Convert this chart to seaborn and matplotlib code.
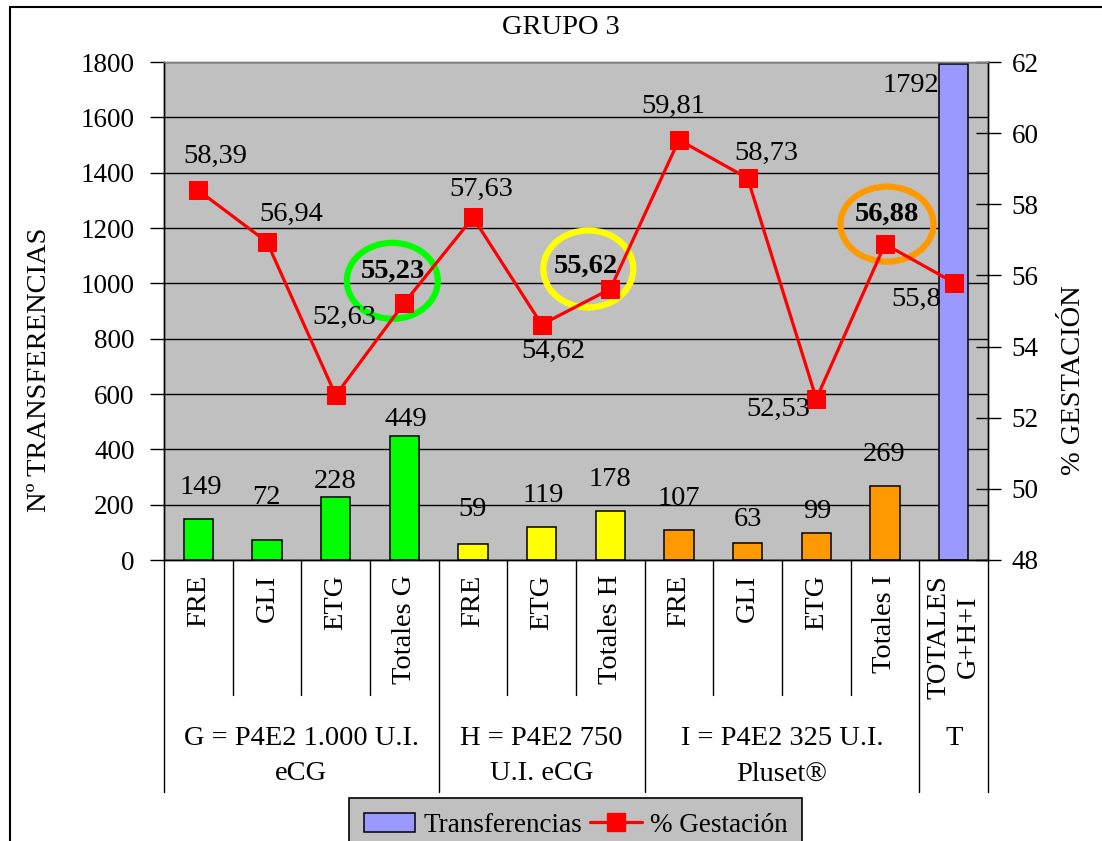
import numpy as np
import pandas as pd
import matplotlib
matplotlib.use("Agg")
import matplotlib.pyplot as plt
import seaborn as sns
from matplotlib.patches import Ellipse, Patch
from matplotlib.lines import Line2D
from matplotlib.transforms import IdentityTransform

# ---- data ----
subcategories = ["FRE", "GLI", "ETG", "Totales G",
                 "FRE", "ETG", "Totales H",
                 "FRE", "GLI", "ETG", "Totales I",
                 "TOTALES\nG+H+I"]
groups = ["G = P4E2 1.000 U.I.\neCG", "H = P4E2 750\nU.I. eCG",
          "I = P4E2 325 U.I.\nPluset®", "T"]
group_sizes = [4, 3, 4, 1]
transferencias = [149, 72, 228, 449, 59, 119, 178, 107, 63, 99, 269, 1792]
gestacion = [58.39, 56.94, 52.63, 55.23, 57.63, 54.62, 55.62,
             59.81, 58.73, 52.53, 56.88, 55.8]
group_colors = ["#00FF00", "#FFFF00", "#FF9900", "#9999FF"]
highlight = {3: "#00FF00", 6: "#FFFF00", 10: "#FF9900"}

# label offsets in pixels (dx right, dy down)
line_label_off = [(17, -34), (24, -28), (9, -78), (-11, -32), (8, -28), (12, 27),
                  (-24, -23), (-6, -33), (19, -25), (-38, 11), (2, -30), (-37, 17)]
bar_label_off = [(2, -31), (-1, -43), (0, -15), (1, -16), (0, -34), (2, -32),
                 (0, -31), (0, -32), (0, -23), (1, -21), (-1, -31), (-43, 21)]
ellipse_style = {3: (-12, -22, 91, 76), 6: (-22, -20, 90, 77), 10: (2, -20, 93, 75)}

n = len(transferencias)
bar_colors = [c for c, s in zip(group_colors, group_sizes) for _ in range(s)]
df = pd.DataFrame({"key": [str(i) for i in range(n)],
                   "transferencias": transferencias})

# ---- style ----
sns.set_theme(style="white")
plt.rcParams["font.family"] = ["Liberation Serif", "DejaVu Serif"]
plt.rcParams.update({"text.color": "black", "axes.labelcolor": "black",
                     "xtick.color": "black", "ytick.color": "black"})
FS = 20.5
TICK_FS = 19.5
W, H = 1102, 841

fig = plt.figure(figsize=(W / 100, H / 100), dpi=100)
fig.patch.set_facecolor("white")
ax = fig.add_axes([164 / W, 1 - 560 / H, 824 / W, 498 / H])
ax.set_facecolor("#C0C0C0")

sns.barplot(data=df, x="key", y="transferencias", hue="key",
            palette=bar_colors, width=0.43, saturation=1,
            edgecolor="black", linewidth=1.1, legend=False, ax=ax, zorder=2)

ax2 = ax.twinx()
sns.lineplot(x=np.arange(n), y=gestacion, ax=ax2, color="red", linewidth=2.3,
             marker="s", markersize=13, markeredgecolor="red", zorder=3)

ax.set_xlim(-0.5, n - 0.5)
ax.set_ylim(0, 1800)
ax.set_yticks(range(0, 1801, 200))
ax2.set_ylim(48, 62)
ax2.set_yticks(range(48, 63, 2))
ax.set_xlabel("")
ax.set_ylabel("")
ax2.set_ylabel("")
ax.yaxis.grid(True, color="black", linewidth=1)
ax.set_axisbelow(True)

ax.tick_params(axis="x", bottom=False, labelbottom=False)
ax.tick_params(axis="y", left=True, direction="out", length=10, width=1,
               color="black", labelcolor="black", labelsize=TICK_FS, pad=11)
ax2.tick_params(axis="y", right=True, direction="inout", length=18, width=1,
                color="black", labelcolor="black", labelsize=TICK_FS, pad=8)
for a in (ax, ax2):
    for s in ("left", "bottom", "right"):
        a.spines[s].set_color("black")
        a.spines[s].set_linewidth(1)
    a.spines["top"].set_color("#808080")
    a.spines["top"].set_linewidth(1)

# ---- value labels ----
for i, v in enumerate(transferencias):
    dx, dy = bar_label_off[i]
    ax.annotate(str(v), (i, v), xytext=(dx, -dy), textcoords="offset pixels",
                ha="center", va="center", fontsize=FS, color="black",
                annotation_clip=False, zorder=4)

for i, v in enumerate(gestacion):
    dx, dy = line_label_off[i]
    txt = f"{v:g}".replace(".", ",")
    ax2.annotate(txt, (i, v), xytext=(dx, -dy), textcoords="offset pixels",
                 ha="center", va="center", fontsize=FS, color="black",
                 fontweight="bold" if i in highlight else "normal",
                 annotation_clip=False, zorder=4)

# highlight rings around the group totals
for i, col in highlight.items():
    dx, dy, ew, eh = ellipse_style[i]
    cx, cy = ax2.transData.transform((i, gestacion[i]))
    ring = Ellipse((cx + dx, cy - dy), ew, eh, transform=IdentityTransform(),
                   fill=False, edgecolor=col, linewidth=4.5, zorder=2.5,
                   clip_on=False)
    ax2.add_artist(ring)

# ---- two-level category axis ----
def ay(py):
    return (560 - py) / 498

xt = ax.get_xaxis_transform()
for i, lab in enumerate(subcategories):
    ax.text(i, ay(575), lab, transform=xt, rotation=90, ha="center", va="top",
            multialignment="center", fontsize=FS, linespacing=1.25, clip_on=False)

group_edges = np.cumsum([0] + group_sizes) - 0.5
for k in range(n + 1):
    xb = k - 0.5
    bottom = ay(792) if np.any(np.isclose(group_edges, xb)) else ay(695)
    ax.add_line(Line2D([xb, xb], [0, bottom], transform=xt, color="black",
                       linewidth=1, clip_on=False))

for g, lab in enumerate(groups):
    cx = (group_edges[g] + group_edges[g + 1]) / 2
    ax.text(cx, ay(726), lab, transform=xt, ha="center", va="top",
            multialignment="center", fontsize=FS, linespacing=1.55, clip_on=False)

# ---- titles and axis labels ----
fig.text(561 / W, 1 - 28 / H, "GRUPO 3", ha="center", va="center", fontsize=FS)
fig.text(40 / W, 1 - 370 / H, "Nº TRANSFERENCIAS", rotation=90,
         ha="center", va="center", fontsize=FS)
fig.text(1074 / W, 1 - 380 / H, "% GESTACIÓN", rotation=90,
         ha="center", va="center", fontsize=FS)

# chart frame
fig.add_artist(Line2D([10 / W, 10 / W], [0, 1 - 7 / H], transform=fig.transFigure,
                      color="black", linewidth=1.5))
fig.add_artist(Line2D([10 / W, 1], [1 - 7 / H, 1 - 7 / H], transform=fig.transFigure,
                      color="black", linewidth=1.5))

# ---- legend ----
handles = [Patch(facecolor="#9999FF", edgecolor="black", linewidth=1.1),
           Line2D([], [], color="red", linewidth=2.3, marker="s", markersize=13,
                  markeredgecolor="red")]
leg = fig.legend(handles, ["Transferencias", "% Gestación"], loc="upper left",
                 bbox_to_anchor=(349 / W, 1 - 798 / H), ncol=2, frameon=True,
                 fancybox=False, facecolor="#C0C0C0", edgecolor="black",
                 framealpha=1, fontsize=19.5, borderaxespad=0, handlelength=1.9,
                 columnspacing=0.3, handletextpad=0.3, borderpad=0.55)
leg.get_frame().set_linewidth(1.2)

fig.savefig("out.png", dpi=100, facecolor="white")
